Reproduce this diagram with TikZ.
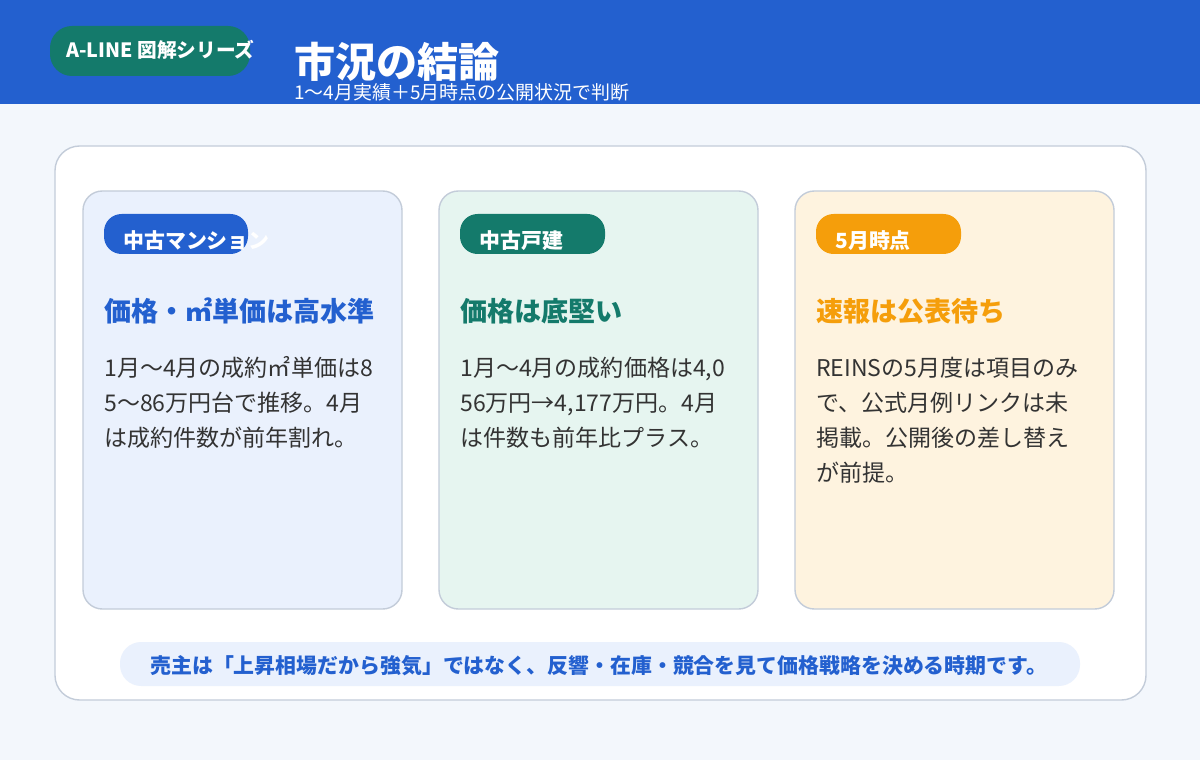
\documentclass[tikz,border=0pt]{standalone}
\usepackage{fontspec}
\setmainfont{Noto Sans CJK JP}
\usetikzlibrary{positioning}
\definecolor{hdrblue}{HTML}{2360CF}
\definecolor{tealc}{HTML}{147A6B}
\definecolor{orangec}{HTML}{F59E0B}
\definecolor{bgc}{HTML}{F3F7FC}
\definecolor{edgec}{HTML}{C3CCD9}
\definecolor{txtc}{HTML}{333333}
\definecolor{fillblue}{HTML}{EAF1FD}
\definecolor{fillgreen}{HTML}{E6F5F0}
\definecolor{fillorange}{HTML}{FEF3DF}
\tikzset{
  card/.style={draw=edgec, line width=0.8pt, rounded corners=11pt},
  tagtext/.style={anchor=base west, text=white, font=\fontsize{11.9}{14}\selectfont\bfseries, inner sep=0pt},
  headtext/.style={anchor=base west, font=\fontsize{15.4}{18}\selectfont\bfseries, inner sep=0pt},
  bodytext/.style={anchor=base west, text=txtc, font=\fontsize{13.1}{15}\selectfont, inner sep=0pt},
}
\begin{document}
\begin{tikzpicture}[x=0.02cm, y=-0.02cm]
        \useasboundingbox (0,0) rectangle (1200,760);
        % 背景とヘッダー
        \fill[bgc] (0,0) rectangle (1200,760);
        \fill[hdrblue] (0,0) rectangle (1200,104);
        \fill[tealc, rounded corners=12.5pt] (50,26) rectangle (250,76);
        \node[anchor=base west, inner sep=0pt, text=white, font=\fontsize{11.2}{13}\selectfont\bfseries] (series) at (66,58) {A-LINE 図解シリーズ};
        \node[anchor=base west, inner sep=0pt, text=white, font=\fontsize{23.4}{27}\selectfont\bfseries] (title) at (294,78) {市況の結論};
        \node[anchor=base west, inner sep=0pt, text=white, font=\fontsize{10.8}{12}\selectfont] (subtitle) at (294,100) {1〜4月実績＋5月時点の公開状況で判断};

        % 外枠パネル
        \draw[card, fill=white, rounded corners=14pt] (55,146) rectangle (1146,700);

        % カード
        \draw[card, fill=fillblue] (83,191) rectangle (402,609);
        \draw[card, fill=fillgreen] (439,191) rectangle (758,609);
        \draw[card, fill=fillorange] (795,191) rectangle (1114,609);

        % タグ
        \fill[hdrblue, rounded corners=10pt] (104,214) rectangle (248,254);
        \fill[tealc, rounded corners=10pt] (460,214) rectangle (605,254);
        \fill[orangec, rounded corners=10pt] (816,214) rectangle (961,254);
        \node[tagtext] (tagA) at (123,249) {中古マンション};
        \node[tagtext] (tagB) at (479,249) {中古戸建};
        \node[tagtext] (tagC) at (835,249) {5月時点};

        % 見出し
        \node[headtext, text=hdrblue] (headA) at (104,321) {価格・㎡単価は高水準};
        \node[headtext, text=tealc] (headB) at (460,321) {価格は底堅い};
        \node[headtext, text=orangec] (headC) at (816,321) {速報は公表待ち};

        % 本文
        \node[bodytext] at (104,376) {1月〜4月の成約㎡単価は8};
        \node[bodytext] at (104,411) {5〜86万円台で推移。4月};
        \node[bodytext] at (104,446) {は成約件数が前年割れ。};
        \node[bodytext] at (460,376) {1月〜4月の成約価格は4,0};
        \node[bodytext] at (460,411) {56万円→4,177万円。4月};
        \node[bodytext] at (460,446) {は件数も前年比プラス。};
        \node[bodytext] at (816,376) {REINSの5月度は項目のみ};
        \node[bodytext] at (816,411) {で、公式月例リンクは未};
        \node[bodytext] at (816,446) {掲載。公開後の差し替え};
        \node[bodytext] at (816,481) {が前提。};

        % まとめ
        \fill[fillblue, rounded corners=12pt] (120,642) rectangle (1080,686);
        \node[anchor=base west, inner sep=0pt, text=hdrblue, font=\fontsize{11.9}{13}\selectfont\bfseries] (summary) at (150,673) {売主は「上昇相場だから強気」ではなく、反響・在庫・競合を見て価格戦略を決める時期です。};
\end{tikzpicture}
\end{document}
